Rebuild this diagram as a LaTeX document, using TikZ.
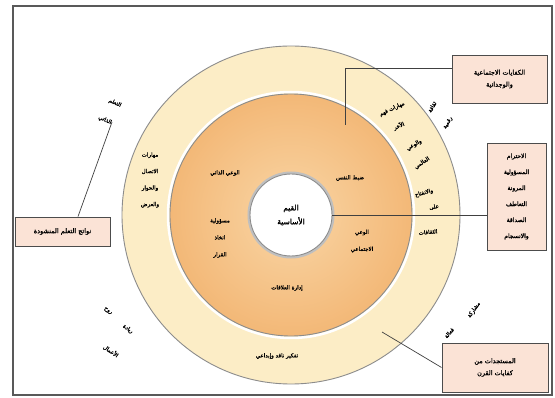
\documentclass[tikz,border=0pt]{standalone}
\usepackage{fontspec}
\TeXXeTstate=1
\newfontfamily\arabicfont[Script=Arabic,FakeBold=1.6]{DejaVu Sans}
\newcommand\rl[1]{\beginR#1\endR}
\definecolor{ringcream}{HTML}{FCEDC6}
\definecolor{orangeinner}{HTML}{F9D6A6}
\definecolor{orangeouter}{HTML}{F3B877}
\definecolor{boxpink}{HTML}{FBE3D6}
\definecolor{rimgray}{HTML}{8C8C8C}
\begin{document}
\begin{tikzpicture}[x=1pt,y=-1pt,
  frame/.style={draw=black!65,line width=1.1pt},
  rim/.style={draw=rimgray,line width=0.9pt},
  infobox/.style={draw=black!70,line width=0.9pt,fill=boxpink,align=center,inner sep=0pt,
    font=\arabicfont\fontsize{6.5}{12}\selectfont},
  link/.style={draw=black!75,line width=0.7pt},
  lbl/.style={font=\arabicfont\fontsize{5.5}{17}\selectfont,align=center,inner sep=0pt,text=black},
]
\useasboundingbox (0,0) rectangle (555,398);
\fill[white] (0,0) rectangle (555,398);
\draw[frame] (13,6) rectangle (552,395);

% concentric rings
\coordinate (c) at (291,215);
\draw[rim,fill=ringcream] (c) circle[radius=169pt];
\draw[white,line width=2.5pt] (c) circle[radius=123pt];
\shade[inner color=orangeinner,outer color=orangeouter] (c) circle[radius=121pt];
\draw[rim] (c) circle[radius=121pt];
\draw[black!25,line width=3pt] (c) circle[radius=42pt];
\node[circle,draw=rimgray,line width=0.9pt,fill=white,minimum size=82pt,lbl,
  font=\arabicfont\fontsize{7.5}{14}\selectfont] (core) at (c) {\rl{القيم}\\\rl{الأساسية}};

% social-emotional ring
\node[lbl] (selfaware) at (225,173) {\rl{الوعي الذاتي}};
\node[lbl] (decision) at (220,238) {\rl{مسؤولية}\\\rl{اتخاذ}\\\rl{القرار}};
\node[lbl] (selfctl) at (350,178) {\rl{ضبط النفس}};
\node[lbl] (socaware) at (362,241) {\rl{الوعي}\\\rl{الاجتماعي}};
\node[lbl] (relmgmt) at (287,288) {\rl{إدارة العلاقات}};

% skills ring
\node[lbl,font=\arabicfont\fontsize{5.5}{16.5}\selectfont] (comm) at (150,180)
  {\rl{مهارات}\\\rl{الاتصال}\\\rl{والحوار}\\\rl{والعرض}};
\node[lbl,rotate=25] (other1) at (392,109) {\rl{مهارات فهم}};
\node[lbl,rotate=22] (other2) at (399,126) {\rl{الآخر}};
\node[lbl,rotate=30] (other3) at (414,145) {\rl{والوعي}};
\node[lbl,rotate=33] (other4) at (422,163) {\rl{العالمي}};
\node[lbl,rotate=15] (open1) at (424,193) {\rl{والانفتاح}};
\node[lbl,rotate=10] (open2) at (434,207) {\rl{على}};
\node[lbl,rotate=5] (open3) at (428,232) {\rl{الثقافات}};
\node[lbl] (critical) at (277,356) {\rl{تفكير ناقد وإبداعي}};

% labels around the outer ring
\node[lbl,rotate=-25] (tl1) at (115,103) {\rl{التعلم}};
\node[lbl,rotate=-25] (tl2) at (105,120) {\rl{الذاتي}};
\node[lbl,rotate=60] (tr1) at (432,107) {\rl{ثقافة}};
\node[lbl,rotate=60] (tr2) at (448,123) {\rl{رقمية}};
\node[lbl,rotate=55] (br1) at (474,310) {\rl{مشاركة}};
\node[lbl,rotate=50] (br2) at (449,333) {\rl{فعالة}};
\node[lbl,rotate=-35] (bl1) at (108,311) {\rl{روح}};
\node[lbl,rotate=-35] (bl2) at (128,329) {\rl{ريادة}};
\node[lbl,rotate=-35] (bl3) at (111,351) {\rl{الأعمال}};

% call-out boxes
\node[infobox,minimum width=95pt,minimum height=48pt] (ks) at (499.5,79)
  {\rl{الكفايات الاجتماعية}\\\rl{والوجدانية}};
\node[infobox,minimum width=59pt,minimum height=107pt,
  font=\arabicfont\fontsize{6}{16}\selectfont] (vals) at (516.5,196.5)
  {\rl{الاحترام}\\\rl{المسؤولية}\\\rl{المرونة}\\\rl{التعاطف}\\\rl{الصداقة}\\\rl{والانسجام}};
\node[infobox,minimum width=106pt,minimum height=49pt] (newc) at (495,367.5)
  {\rl{المستجدات من}\\\rl{كفايات القرن}};
\node[infobox,minimum width=95pt,minimum height=29pt] (outc) at (62.5,231.5)
  {\rl{نواتج التعلم المنشودة}};

% connectors
\coordinate (ksIn) at (345,125);
\draw[link] ([yshift=11pt]ks.west) -| (ksIn);
\draw[link] (core.east) -- (core.east -| vals.west);
\coordinate (newIn) at (382,332);
\draw[link] (newIn) -- (newc.west);
\coordinate (outIn) at (112,122);
\draw[link] ([xshift=15.5pt]outc.north) -- (outIn);
\end{tikzpicture}
\end{document}
